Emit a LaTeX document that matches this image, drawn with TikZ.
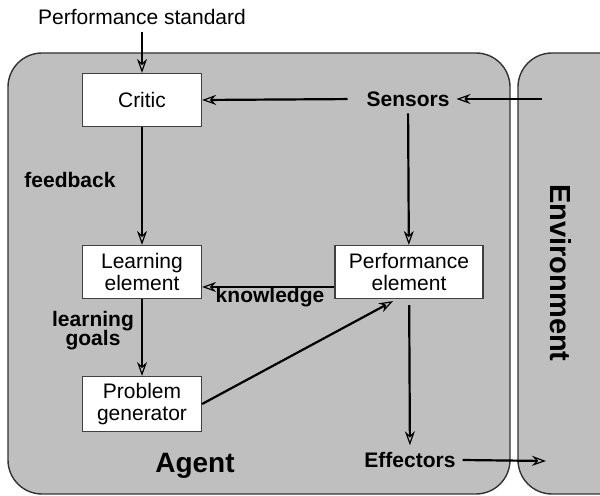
\documentclass[tikz,border=0pt]{standalone}
\usepackage{fontspec}
\setmainfont{Liberation Sans}
\usetikzlibrary{arrows.meta}

\begin{document}
\begin{tikzpicture}[x=0.5pt, y=-0.5pt,
  part/.style={draw=black!75, fill=white, line width=0.6pt, minimum width=59.5pt,
    minimum height=26.5pt, align=center, font=\fontsize{10.5}{12}\selectfont},
  lbl/.style={font=\fontsize{10.5}{11.5}\selectfont\bfseries, align=center},
  arr/.style={line width=1.1pt, -{Stealth[open,length=7pt,width=5pt,line width=0.6pt]}},
  shell/.style={draw=black!80, fill=black!25, line width=0.7pt, rounded corners=17pt}]

\clip (0,0) rectangle (600,496);

% agent and environment
\draw[shell] (8,53) rectangle (510,494);
\draw[shell] (518,53) rectangle (660,494);

\node[font=\fontsize{14}{16}\selectfont\bfseries] (agent) at (195,466) {Agent};
\node[font=\fontsize{14.5}{16}\selectfont\bfseries, rotate=-90] (env) at (561,273) {Environment};

% boxes
\node[part] (critic) at (142,100) {Critic};
\node[part] (learn) at (142,272) {Learning\\[-1pt]element};
\node[part] (probgen) at (142,404) {Problem\\[-1pt]generator};
\node[part, minimum width=74pt] (perf) at (409,272) {Performance\\[-1pt]element};

\node[font=\fontsize{10.5}{12}\selectfont] (standard) at (142,17) {Performance standard};
\node[lbl] (sensors) at (408,99) {Sensors};
\node[lbl] (effectors) at (410,460) {Effectors};

\coordinate (envin) at (542,99);
\coordinate (envout) at (546,461);

% labels
\node[lbl] (feedback) at (70,180) {feedback};
\node[lbl] (goals) at (93,331) {learning\\[-2pt]goals};
\node[lbl] (knowledge) at (270,297) {knowledge};

% arrows
\draw[arr] (standard) -- (critic);
\draw[arr] (envin) -- (sensors.east);
\draw[arr, shorten <=6pt] (sensors.west) -- (critic.east);
\draw[arr] (sensors) -- (perf);
\draw[arr] (critic) -- (learn);
\draw[arr] ([yshift=-7.5pt]perf.west) -- ([yshift=-7.5pt]learn.east);
\draw[arr] (learn) -- (probgen);
\draw[arr] (probgen.east) -- ([xshift=-8pt, yshift=-1pt]perf.south);
\draw[arr, shorten <=3pt] (perf) -- (effectors);
\draw[arr] (effectors.east) -- (envout);

\end{tikzpicture}
\end{document}
